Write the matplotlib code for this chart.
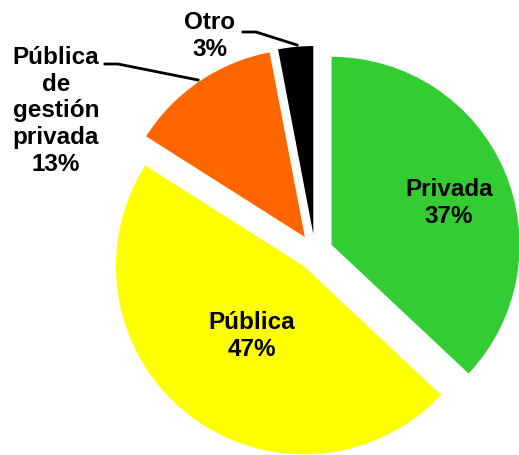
import matplotlib.pyplot as plt

# data
sectors = ['Privada', 'Pública', 'Pública\nde\ngestión\nprivada', 'Otro']
shares = [37, 47, 13, 3]
colors = ['#33CC33', '#FFFF00', '#FF6600', '#000000']

W, H = 519, 455
fig = plt.figure(figsize=(W / 100, H / 100), dpi=100)
ax = fig.add_axes([0, 0, 1, 1])

# pie in pixel-like data coordinates (y up)
cx, cy, r = 315, H - 252, 188
ax.pie(shares, colors=colors, startangle=90, counterclock=False,
       explode=[0.096 * r] * len(shares), center=(cx, cy), radius=r,
       wedgeprops=dict(linewidth=0))
ax.set_xlim(0, W)
ax.set_ylim(0, H)
ax.set_aspect('equal')
ax.axis('off')

font = dict(family=['Liberation Sans', 'DejaVu Sans'], fontsize=17.5,
            fontweight='bold', ha='center', va='center', linespacing=1.2)

# labels inside
ax.text(449, H - 203, f'{sectors[0]}\n{shares[0]}%', **font)
ax.text(252, H - 336, f'{sectors[1]}\n{shares[1]}%', **font)
# labels outside with leader lines
ax.text(56, H - 111, f'{sectors[2]}\n{shares[2]}%', **font)
ax.text(210, H - 36, f'{sectors[3]}\n{shares[3]}%', **font)
ax.plot([105, 118, 198], [H - 64, H - 64, H - 80], color='black', lw=2)
ax.plot([243, 256, 297], [H - 32, H - 32, H - 45], color='black', lw=2)

fig.savefig('out.png', dpi=100)
